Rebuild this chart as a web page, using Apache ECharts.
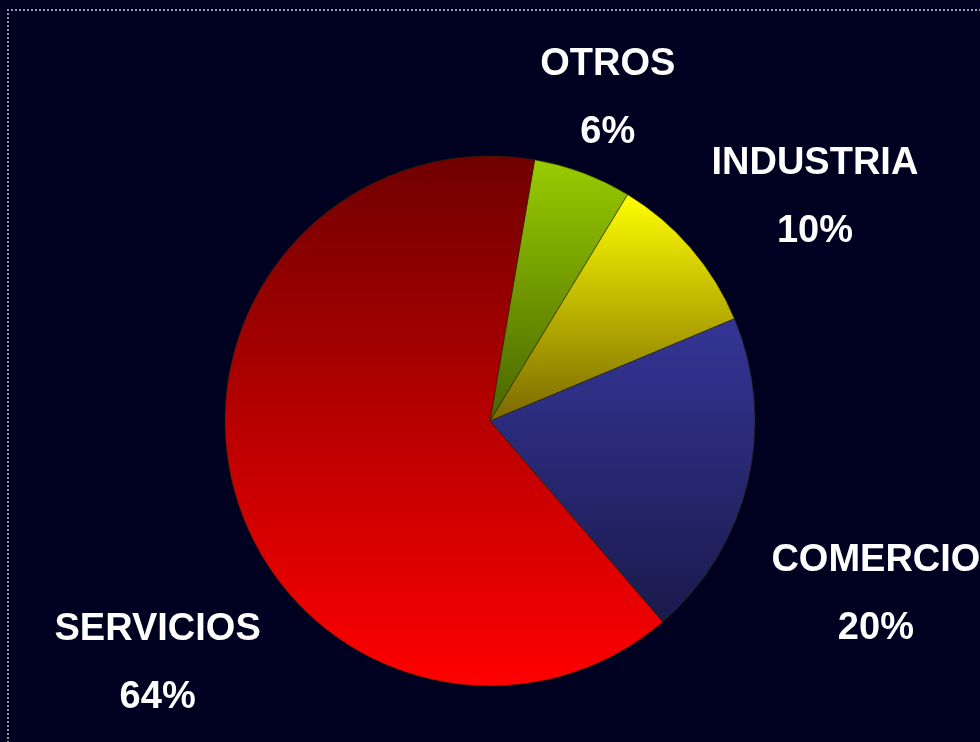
<!DOCTYPE html>
<html>
<head>
<meta charset="utf-8">
<script src="https://cdn.jsdelivr.net/npm/echarts@6/dist/echarts.min.js"></script>
<style>
  html, body { margin: 0; padding: 0; background: #000020; }
  #frame {
    position: absolute; left: 7px; top: 9px; width: 1000px; height: 800px;
    border-top: 2px dotted #9a9aaa; border-left: 2px dotted #9a9aaa;
  }
  #chart { position: absolute; left: 0; top: 0; width: 980px; height: 742px; }
</style>
</head>
<body>
<div id="frame"></div>
<div id="chart"></div>
<script>
// datos del grafico
var sectores = ['OTROS', 'INDUSTRIA', 'COMERCIO', 'SERVICIOS'];
var porcentajes = [6, 10, 20, 64];

// colores degradados (arriba -> abajo)
var coloresArriba = ['#99cc00', '#ffff00', '#353597', '#700000'];
var coloresAbajo = ['#486400', '#7a6800', '#1a1a4c', '#ff0000'];

// desplazamiento de cada etiqueta respecto al borde del pastel
var etiquetaDx = [25, 124, 128, -77];
var etiquetaDy = [-74, -51, 113, 172];

var chart = echarts.init(document.getElementById('chart'));

var datos = [];
for (var i = 0; i < sectores.length; i++) {
  datos.push({
    name: sectores[i],
    value: porcentajes[i],
    itemStyle: {
      color: new echarts.graphic.LinearGradient(0, 0, 0, 1, [
        { offset: 0, color: coloresArriba[i] },
        { offset: 1, color: coloresAbajo[i] }
      ])
    }
  });
}

var option = {
  backgroundColor: 'transparent',
  animation: false,
  series: [
    {
      type: 'pie',
      center: [490, 421],
      radius: 265,
      startAngle: 80.3,
      clockwise: true,
      avoidLabelOverlap: false,
      data: datos,
      itemStyle: {
        borderColor: 'rgba(40,40,0,0.6)',
        borderWidth: 1
      },
      label: {
        show: true,
        position: 'outside',
        formatter: '{b}\n{d}%',
        color: '#ffffff',
        fontFamily: '"Liberation Sans", Arial, sans-serif',
        fontWeight: 'bold',
        fontSize: 38,
        lineHeight: 68,
        align: 'center',
        distanceToLabelLine: 0
      },
      labelLine: { show: false, length: 0, length2: 0 },
      labelLayout: function (p) {
        return {
          align: 'center',
          verticalAlign: 'middle',
          dx: etiquetaDx[p.dataIndex],
          dy: etiquetaDy[p.dataIndex]
        };
      },
      emphasis: { disabled: true }
    }
  ]
};

chart.setOption(option);
</script>
</body>
</html>
